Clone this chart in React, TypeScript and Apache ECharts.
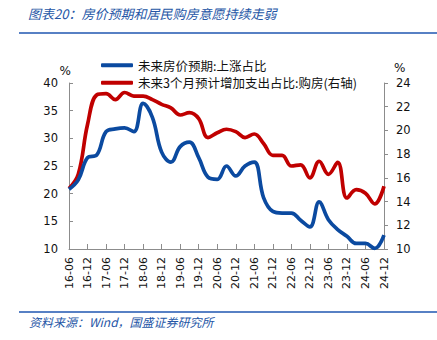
import React, { useEffect, useRef } from "react";
import * as echarts from "echarts";

const categories = [
  "16-06", "16-09", "16-12", "17-03", "17-06", "17-09", "17-12", "18-03", "18-06",
  "18-09", "18-12", "19-03", "19-06", "19-09", "19-12", "20-03", "20-06", "20-09",
  "20-12", "21-03", "21-06", "21-09", "21-12", "22-03", "22-06", "22-09", "22-12",
  "23-03", "23-06", "23-09", "23-12", "24-03", "24-06", "24-09", "24-12",
];

const priceUpExpectation = [
  20.8, 22.5, 26.5, 27.0, 31.2, 31.7, 31.9, 31.2, 36.3,
  33.8, 27.5, 25.7, 28.5, 29.3, 26.5, 23.0, 22.6, 25.0,
  23.2, 25.0, 25.7, 19.3, 16.8, 16.5, 16.5, 15.2, 14.0,
  18.5, 15.3, 13.5, 12.3, 11.0, 11.0, 10.1, 12.5,
];

const housePurchasePlan = [
  15.1, 16.3, 20.5, 23.0, 23.1, 22.6, 23.2, 22.9, 22.9,
  22.6, 22.2, 21.9, 21.3, 21.5, 21.0, 19.4, 19.8, 20.1,
  19.9, 19.4, 19.7, 18.9, 17.9, 17.9, 17.0, 17.1, 16.0,
  17.4, 16.3, 17.3, 14.3, 15.0, 14.7, 13.8, 15.3,
];

const seriesNames = ["未来房价预期:上涨占比", "未来3个月预计增加支出占比:购房(右轴)"];
const title = "图表20：房价预期和居民购房意愿持续走弱";
const source = "资料来源：Wind，国盛证券研究所";

const NUM_FONT = "'DejaVu Sans', Verdana, sans-serif";
const CJK_FONT = "'Noto Sans CJK SC', sans-serif";
const BLUE = "#0b4aa0";
const RED = "#c00000";
const AXIS = "#8c8c8c";

export default function App() {
  const ref = useRef<HTMLDivElement>(null);
  useEffect(() => {
    if (!ref.current) return;
    const chart = echarts.init(ref.current, undefined, { renderer: "svg" });
    chart.setOption({
      animation: false,
      backgroundColor: "#ffffff",
      grid: { left: 69, right: 53, top: 83, bottom: 91, containLabel: false },
      legend: {
        orient: "vertical",
        left: 96,
        top: 54,
        itemWidth: 32,
        itemHeight: 4,
        itemGap: 5,
        icon: "roundRect",
        textStyle: { fontFamily: CJK_FONT, fontSize: 12.5, color: "#111" },
        data: seriesNames,
      },
      xAxis: {
        type: "category",
        data: categories,
        boundaryGap: false,
        axisLine: { lineStyle: { color: AXIS, width: 1 } },
        axisTick: { inside: true, length: 5, interval: 1, lineStyle: { color: AXIS } },
        axisLabel: {
          interval: 1,
          rotate: 90,
          margin: 8,
          fontFamily: NUM_FONT,
          fontSize: 11,
          color: "#111",
        },
      },
      yAxis: [
        {
          type: "value",
          min: 10,
          max: 40,
          interval: 5,
          name: "%",
          nameLocation: "end",
          nameGap: 5,
          nameTextStyle: { fontFamily: NUM_FONT, fontSize: 12, color: "#111", align: "right", padding: [0, -2, 0, 0] },
          splitLine: { show: false },
          axisLine: { show: true, lineStyle: { color: AXIS } },
          axisTick: { show: true, inside: true, length: 4, lineStyle: { color: AXIS } },
          axisLabel: { fontFamily: NUM_FONT, fontSize: 11.5, color: "#111", margin: 11 },
        },
        {
          type: "value",
          min: 10,
          max: 24,
          interval: 2,
          name: "%",
          nameLocation: "end",
          nameGap: 9,
          nameTextStyle: { fontFamily: NUM_FONT, fontSize: 12, color: "#111", align: "left", padding: [0, 0, 0, 10] },
          splitLine: { show: false },
          axisLine: { show: true, lineStyle: { color: AXIS } },
          axisTick: { show: true, inside: false, length: 4, lineStyle: { color: AXIS } },
          axisLabel: { fontFamily: NUM_FONT, fontSize: 11.5, color: "#111", margin: 12 },
        },
      ],
      series: [
        {
          name: seriesNames[0],
          type: "line",
          data: priceUpExpectation,
          yAxisIndex: 0,
          smooth: 0.4,
          symbol: "none",
          lineStyle: { color: BLUE, width: 3.7 },
          itemStyle: { color: BLUE },
          z: 3,
        },
        {
          name: seriesNames[1],
          type: "line",
          data: housePurchasePlan,
          yAxisIndex: 1,
          smooth: 0.4,
          symbol: "none",
          lineStyle: { color: RED, width: 3.7 },
          itemStyle: { color: RED },
          z: 2,
        },
      ],
      graphic: [
        {
          type: "text",
          left: 28,
          top: 7,
          style: {
            text: title,
            fontFamily: CJK_FONT,
            fontSize: 13,
            fontStyle: "italic",
            fill: "#2556a6",
          },
        },
        {
          type: "line",
          shape: { x1: 19, y1: 33, x2: 437, y2: 33 },
          style: { stroke: "#1f56b0", lineWidth: 1.5 },
        },
        {
          type: "line",
          shape: { x1: 19, y1: 312, x2: 437, y2: 312 },
          style: { stroke: "#1f56b0", lineWidth: 1.5 },
        },
        {
          type: "text",
          left: 29,
          top: 315,
          style: {
            text: source,
            fontFamily: CJK_FONT,
            fontSize: 12,
            fontStyle: "italic",
            fill: "#2556a6",
          },
        },
      ],
    });
    return () => chart.dispose();
  }, []);
  return <div ref={ref} style={{ width: 437, height: 340, position: "absolute", left: 0, top: 0 }} />;
}
